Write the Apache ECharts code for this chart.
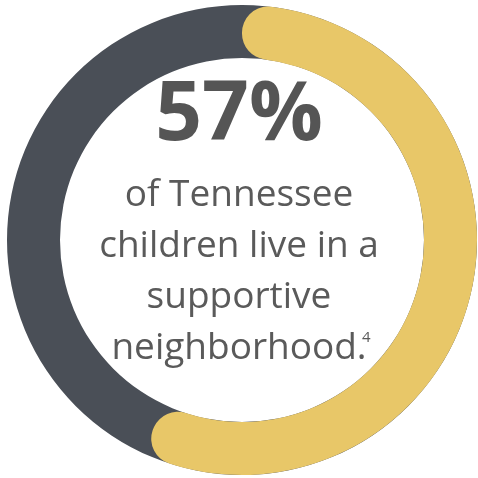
<!DOCTYPE html>
<html><head><meta charset="utf-8">
<script src="https://cdn.jsdelivr.net/npm/echarts@6/dist/echarts.min.js"></script>
<style>html,body{margin:0;padding:0;background:#fff}#c{width:478px;height:478px}</style>
</head><body><div id="c"></div>
<script>
const shareValue = 57;
const restValue = 100 - shareValue;
const headline = '57%';
const bodyLines = ['of Tennessee', 'children live in a', 'supportive', 'neighborhood.'];
const footnote = '4';

const chart = echarts.init(document.getElementById('c'));
const center = [242, 240];
const radius = [182, 235];
const font = '"Open Sans", sans-serif';
chart.setOption({
  animation: false,
  series: [
    {
      type: 'pie', center, radius, silent: true, startAngle: 90,
      label: {show: false}, labelLine: {show: false},
      data: [{value: 100, itemStyle: {color: '#4A4F57'}}]
    },
    {
      type: 'pie', center, radius, silent: true, startAngle: 90, clockwise: true,
      label: {show: false}, labelLine: {show: false},
      itemStyle: {borderRadius: 26},
      data: [
        {value: shareValue, itemStyle: {color: '#E8C768'}},
        {value: restValue, itemStyle: {color: 'rgba(0,0,0,0)', borderRadius: 0}}
      ]
    }
  ],
  graphic: [
    {type: 'text', left: 'center', top: 76, style: {text: headline, font: 'bold 82px ' + font, fill: '#555555', textAlign: 'center'}},
    {type: 'text', left: 'center', top: 170, style: {text: bodyLines.join('\n'), font: '37px ' + font, lineHeight: 51, fill: '#5a5a5a', textAlign: 'center'}},
    {type: 'text', left: 362, top: 330, style: {text: footnote, font: '15px ' + font, fill: '#5a5a5a'}}
  ]
});
</script></body></html>
